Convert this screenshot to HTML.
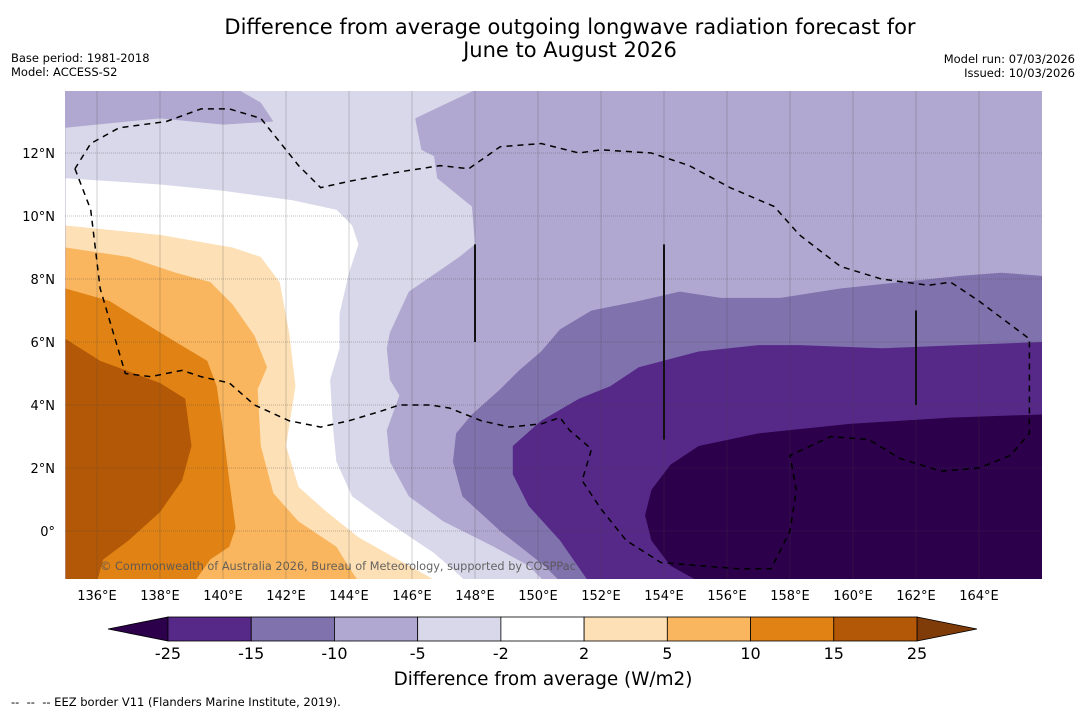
<!DOCTYPE html>
<html><head><meta charset="utf-8"><style>
body{margin:0;background:#fff;width:1085px;height:713px;overflow:hidden;font-family:"Liberation Sans","DejaVu Sans",sans-serif}
svg text{font-family:"DejaVu Sans","Liberation Sans",sans-serif}
</style></head><body>
<svg id="chart" width="1085" height="713" xmlns="http://www.w3.org/2000/svg">
<text x="570" y="34" font-size="21" text-anchor="middle">Difference from average outgoing longwave radiation forecast for</text>
<text x="570" y="57" font-size="21" text-anchor="middle">June to August 2026</text>
<text x="11" y="62" font-size="11.5">Base period: 1981-2018</text>
<text x="11" y="76" font-size="11.5">Model: ACCESS-S2</text>
<text x="1075" y="63" font-size="11.5" text-anchor="end">Model run: 07/03/2026</text>
<text x="1075" y="77" font-size="11.5" text-anchor="end">Issued: 10/03/2026</text>
<defs><clipPath id="mapclip"><rect x="65" y="91" width="977" height="488"/></clipPath></defs>
<g id="map" clip-path="url(#mapclip)"></g>
<g id="axes"></g>
<g id="cbar"></g>
<text x="543" y="685" font-size="18.4" text-anchor="middle">Difference from average (W/m2)</text>
<text x="11" y="706" font-size="11.5" style="white-space:pre" xml:space="preserve">--  --  -- EEZ border V11 (Flanders Marine Institute, 2019).</text>
</svg>
<script>
const lonTicks=[136,138,140,142,144,146,148,150,152,154,156,158,160,162,164];
const latTicks=[0,2,4,6,8,10,12];
const cbarLevels=[-25,-15,-10,-5,-2,2,5,10,15,25];
const cbarColors=['#562888','#7f72ad','#b0a8d0','#d8d8ea','#ffffff','#fde0b6','#fab65e','#e08214','#b35806'];
const regLight=[[135,14],[148,14],[146.1,13.1],[146.3,12.1],[146.7,11.9],[146.8,11.2],[147.9,10.3],[148,9.1],[147.5,8.7],[145.9,7.6],[145.3,6.3],[145.2,5.8],[145.3,4.8],[145.6,4.3],[145.2,3.2],[145.3,2.2],[145.9,1.1],[147,0.3],[148.6,-0.5],[149.7,-1.1],[150.2,-1.6],[135,-1.6]];
const regWhite=[[135,11.2],[138,11.0],[140,10.8],[142.2,10.5],[143.6,10.2],[144.1,9.7],[144.3,9.1],[144,8.2],[143.7,6.9],[143.7,5.8],[143.4,4.8],[143.5,3.2],[143.6,2.2],[144.1,1.1],[145.2,0.3],[146.7,-0.7],[147.5,-1.4],[147.7,-1.6],[135,-1.6]];
const regPeach=[[135,9.7],[138,9.4],[140.3,9.0],[141.2,8.7],[141.8,7.9],[142.1,6.3],[142.3,4.6],[142.0,2.7],[142.4,1.4],[143.3,0.6],[144.3,-0.2],[145.9,-1.1],[146.8,-1.6],[135,-1.6]];
const regLightOrange=[[135,9.0],[137,8.7],[138.5,8.2],[139.6,7.9],[140.3,7.2],[141,6.2],[141.4,5.2],[141.1,4.5],[141.2,2.7],[141.6,1.2],[142.4,0.3],[143.6,-0.5],[144.1,-1.3],[144.3,-1.6],[135,-1.6]];
const regOrange=[[135,7.7],[136.4,7.3],[138,6.3],[139.5,5.4],[139.8,4.6],[140,3.2],[140.2,1.6],[140.4,0.1],[140.2,-0.5],[139.6,-0.9],[139.1,-1.6],[135,-1.6]];
const regBrown=[[135,6.1],[136.1,5.4],[138,4.7],[138.8,4.2],[139,2.7],[138.7,1.6],[138,0.6],[137,-0.3],[136.2,-0.9],[136,-1.6],[135,-1.6]];
const regTopBand=[[135,14],[140.5,14],[141.2,13.6],[141.6,13.0],[140,12.9],[138,13.1],[135,12.8]];
const regNeg15=[[166,8.1],[164.7,8.2],[163.4,8.1],[161.5,7.9],[159.6,7.7],[157.7,7.4],[155.8,7.4],[154.5,7.6],[153.2,7.3],[151.7,7.0],[150.7,6.4],[150.1,5.7],[149.4,5.1],[148.8,4.5],[147.9,3.7],[147.4,3.1],[147.3,2.2],[147.6,1.1],[148.8,0.0],[150.2,-1.1],[150.7,-1.6],[166,-1.6]];
const regNeg25=[[166,6.0],[163.4,5.9],[160.9,5.8],[158.3,5.9],[157,5.9],[155.1,5.7],[153.2,5.2],[152.3,4.6],[151.3,4.2],[150.1,3.5],[149.2,2.7],[149.2,1.8],[149.7,0.8],[150.7,-0.3],[151.6,-1.6],[166,-1.6]];
const regBelow25=[[166,3.7],[163.1,3.6],[159.9,3.4],[157,3.1],[155.1,2.7],[154.2,2.1],[153.6,1.3],[153.4,0.5],[153.6,-0.3],[154.2,-1.1],[155.1,-1.6],[166,-1.6]];
const eez=[[135.3,11.5],[135.8,10.2],[136.1,7.7],[136.9,5.0],[137.7,4.9],[138.7,5.1],[139.3,4.9],[140.2,4.7],[141,4.0],[142.1,3.5],[143.1,3.3],[144,3.5],[145,3.8],[145.6,4.0],[146.6,4.0],[147.2,3.9],[148.2,3.5],[149.1,3.3],[150.1,3.4],[150.7,3.6],[151,3.2],[151.7,2.6],[151.4,1.6],[152,0.7],[152.8,-0.3],[153.9,-1.0],[155.1,-1.1],[156.4,-1.2],[157.4,-1.2],[158,0.0],[158.2,1.3],[158,2.4],[159.3,3.0],[160.5,2.9],[161.5,2.3],[162.8,1.9],[164,2.0],[165,2.4],[165.6,3.1],[165.6,6.1],[164,7.3],[163.1,7.9],[162.4,7.8],[160.9,8.0],[159.6,8.4],[158.3,9.4],[157.5,10.3],[156.1,10.9],[154.8,11.6],[153.6,12.0],[152,12.1],[151.3,12.0],[150.1,12.3],[148.8,12.2],[147.8,11.5],[146.9,11.6],[145.6,11.4],[144,11.1],[143.1,10.9],[142.4,11.6],[141.2,13.1],[140.2,13.4],[139.3,13.4],[138.2,13.0],[136.7,12.8],[135.8,12.3],[135.3,11.5]];
const segLons=[148,154,162];
const segLat1=[9.1,9.1,7.0];
const segLat2=[6.0,2.9,4.0];

const NS='http://www.w3.org/2000/svg';
const X=lon=>97+(lon-136)*31.5;
const Y=lat=>531-lat*31.5;
function mk(tag,parent,attrs){const e=document.createElementNS(NS,tag);for(const k in attrs)e.setAttribute(k,attrs[k]);parent.appendChild(e);return e;}
const map=document.getElementById('map');
const base=mk('rect',map,{x:65,y:91,width:977,height:488,fill:'#b0a8d0'});


const regions=[[regLight,'#d8d8ea','region-minus5-to-minus2'],[regWhite,'#ffffff','region-minus2-to-2'],[regPeach,'#fde0b6','region-2-to-5'],[regLightOrange,'#fab65e','region-5-to-10'],[regOrange,'#e08214','region-10-to-15'],[regBrown,'#b35806','region-above-15'],[regTopBand,'#b0a8d0','region-top-band'],[regNeg15,'#7f72ad','region-minus15-to-minus10'],[regNeg25,'#562888','region-minus25-to-minus15'],[regBelow25,'#2d004b','region-below-minus25']];
regions.forEach(r=>{
  const p=mk('polygon',map,{points:r[0].map(q=>X(q[0])+','+Y(q[1])).join(' '),fill:r[1]});
  
  
});
lonTicks.forEach(l=>{
  const g=mk('line',map,{x1:X(l),x2:X(l),y1:91,y2:579,stroke:'#444','stroke-opacity':0.3,'stroke-width':0.8});
  
  
});
latTicks.forEach(l=>{
  const g=mk('line',map,{x1:65,x2:1042,y1:Y(l),y2:Y(l),stroke:'#444','stroke-opacity':0.45,'stroke-width':0.8,'stroke-dasharray':'1,1'});
  
  
});
const e=mk('polyline',map,{points:eez.map(q=>X(q[0])+','+Y(q[1])).join(' '),fill:'none',stroke:'#000','stroke-width':1.5,'stroke-dasharray':'6,5'});


segLons.forEach((l,i)=>{
  const s=mk('line',map,{x1:X(l),x2:X(l),y1:Y(segLat1[i]),y2:Y(segLat2[i]),stroke:'#111','stroke-width':2});
  
  
});
const cp=mk('text',map,{x:338,y:570,'font-size':11.3,fill:'#555','fill-opacity':0.9,'text-anchor':'middle'});
cp.textContent='© Commonwealth of Australia 2026, Bureau of Meteorology, supported by COSPPac';


const axes=document.getElementById('axes');
lonTicks.forEach(l=>{
  const t=mk('text',axes,{x:X(l),y:600,'font-size':13,'text-anchor':'middle'});
  t.textContent=l+'°E';
  
  
});
latTicks.forEach(l=>{
  const t=mk('text',axes,{x:55,y:Y(l)+5,'font-size':13,'text-anchor':'end'});
  t.textContent=l===0?'0°':l+'°N';
  
  
});
const cb=document.getElementById('cbar');
const cx0=168,cx1=917,cy=617,ch=24;
const cw=(cx1-cx0)/cbarColors.length;
const lt=mk('polygon',cb,{points:`108,${cy+ch/2} ${cx0},${cy} ${cx0},${cy+ch}`,fill:'#2d004b',stroke:'#000','stroke-width':0.8});


const rt=mk('polygon',cb,{points:`977,${cy+ch/2} ${cx1},${cy} ${cx1},${cy+ch}`,fill:'#7f3b08',stroke:'#000','stroke-width':0.8});


cbarColors.forEach((c,i)=>{
  const r=mk('rect',cb,{x:cx0+i*cw,y:cy,width:cw,height:ch,fill:c,stroke:'#000','stroke-width':0.8});
  
  
});
cbarLevels.forEach((v,i)=>{
  const t=mk('text',cb,{x:cx0+i*cw,y:659,'font-size':16,'text-anchor':'middle'});
  t.textContent=v;
  
  
});
</script>
</body></html>
